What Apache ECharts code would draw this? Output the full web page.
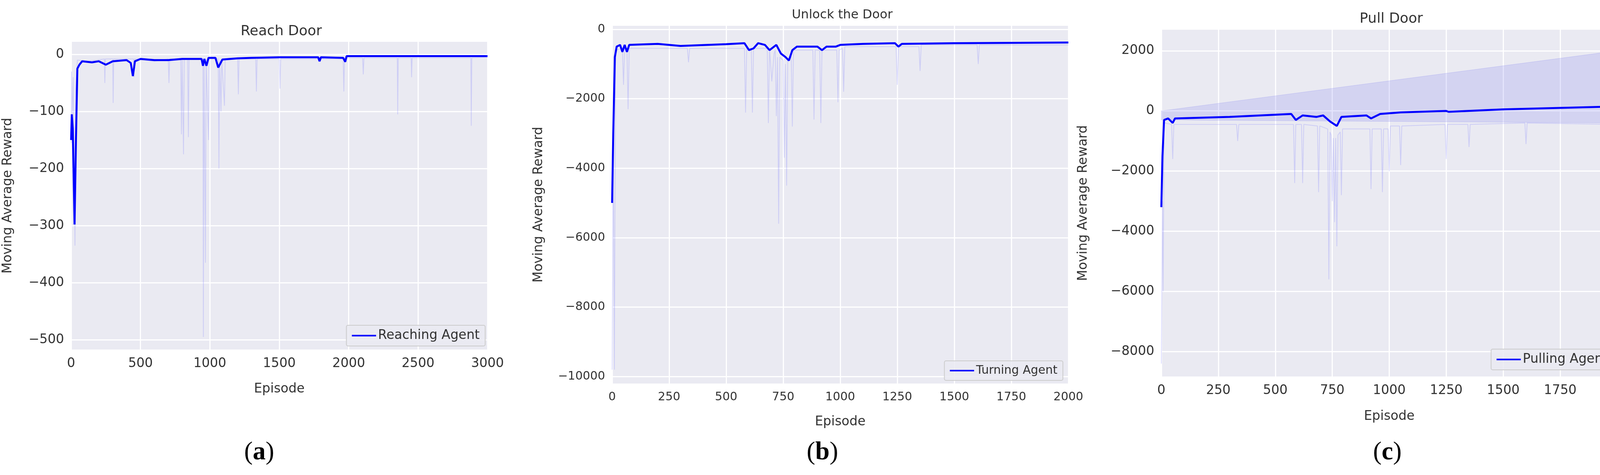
<!DOCTYPE html>
<html>
<head>
<meta charset="utf-8">
<script src="https://cdn.jsdelivr.net/npm/echarts@6/dist/echarts.min.js"></script>
<style>html,body{margin:0;padding:0;background:#fff;overflow:hidden}#c{width:4200px;height:1215px}</style>
</head>
<body>
<div id="c"></div>
<script>
// moving average curves, [episode, reward]
const maReach = [[0,-150],[5,-105],[12,-130],[25,-298],[35,-150],[45,-25],[60,-18],[80,-12],[150,-14],[200,-12],[250,-18],[300,-12],[400,-10],[430,-15],[445,-38],[460,-12],[500,-8],[600,-10],[700,-10],[800,-8],[940,-8],[950,-20],[960,-8],[975,-20],[990,-6],[1040,-6],[1060,-23],[1090,-9],[1200,-7],[1300,-6],[1500,-5],[1600,-5],[1780,-5],[1790,-12],[1800,-5],[1960,-6],[1975,-13],[1985,-3],[2200,-3],[2600,-3],[3000,-3]];
const rawReach = [[0,-155],[3,-30],[8,-110],[15,-40],[20,-150],[28,-335],[35,-60],[45,-10],[120,-12],[240,-8],[243,-50],[247,-8],[300,-8],[303,-85],[307,-8],[450,-8],[453,-40],[457,-8],[600,-12],[700,-8],[705,-50],[710,-8],[790,-8],[795,-140],[800,-8],[810,-175],[815,-8],[840,-8],[845,-145],[850,-8],[950,-8],[953,-495],[958,-10],[968,-365],[973,-8],[990,-150],[995,-8],[1060,-8],[1065,-200],[1070,-10],[1080,-100],[1085,-8],[1105,-90],[1110,-8],[1200,-8],[1205,-70],[1210,-8],[1330,-8],[1335,-65],[1340,-8],[1500,-8],[1505,-60],[1510,-8],[1960,-8],[1965,-65],[1970,-6],[2100,-6],[2105,-35],[2110,-6],[2350,-6],[2353,-105],[2357,-6],[2450,-6],[2453,-40],[2457,-6],[2880,-6],[2883,-125],[2887,-6],[3000,-5]];

const maTurn = [[0,-5000],[5,-3000],[12,-800],[20,-500],[35,-450],[45,-650],[55,-450],[65,-650],[75,-450],[200,-420],[300,-480],[500,-430],[580,-400],[600,-600],[620,-550],[640,-400],[670,-450],[690,-600],[720,-450],[740,-700],[760,-800],[775,-900],[790,-600],[810,-500],[900,-500],[920,-600],[940,-500],[980,-500],[1000,-450],[1100,-420],[1240,-400],[1255,-500],[1270,-420],[1500,-400],[2000,-380]];
const rawTurn = [[0,-9800],[5,-3000],[10,-9800],[15,-600],[45,-550],[50,-1600],[55,-550],[65,-550],[70,-2300],[75,-550],[330,-550],[335,-950],[340,-550],[580,-550],[585,-2400],[590,-550],[610,-550],[615,-2400],[620,-550],[680,-550],[685,-2700],[690,-550],[700,-1500],[710,-700],[715,-600],[720,-2500],[725,-800],[730,-5600],[735,-800],[750,-900],[755,-3700],[760,-1000],[765,-4500],[770,-900],[785,-700],[790,-2800],[795,-600],[880,-600],[885,-2600],[890,-600],[910,-600],[915,-2700],[920,-600],[985,-600],[990,-2100],[995,-600],[1010,-550],[1015,-1800],[1020,-500],[1245,-500],[1250,-1600],[1255,-500],[1345,-500],[1350,-1200],[1355,-450],[1600,-450],[1605,-1000],[1610,-450],[2000,-450]];

const maPull = [[0,-3200],[5,-1500],[12,-300],[30,-250],[50,-400],[60,-250],[300,-200],[570,-100],[590,-300],[620,-150],[680,-200],[710,-150],[740,-350],[770,-500],[790,-200],[900,-150],[920,-250],[960,-100],[1050,-50],[1250,0],[1260,-30],[1500,50],[2000,150]];
const rawPull = [[0,-8400],[5,-3000],[8,-6000],[12,-400],[45,-450],[50,-1600],[55,-450],[330,-450],[335,-1000],[340,-450],[580,-450],[585,-2400],[590,-450],[615,-450],[620,-2400],[625,-450],[685,-500],[690,-2700],[695,-500],[730,-600],[735,-5600],[740,-700],[745,-800],[750,-3000],[755,-900],[760,-3700],[765,-900],[770,-4500],[775,-800],[785,-700],[790,-2800],[795,-600],[915,-600],[920,-2600],[925,-600],[965,-600],[970,-2700],[975,-600],[995,-600],[1000,-2000],[1005,-500],[1045,-500],[1050,-1800],[1055,-500],[1245,-450],[1250,-1600],[1255,-450],[1345,-450],[1350,-1200],[1355,-450],[1595,-400],[1600,-1100],[1605,-400],[2000,-450]];
// shaded band of the pull agent: upper and lower edge
const bandUpper = [[0,0],[2000,2000]];
const bandLower = [[2000,-400],[0,-300]];

const titles = ['Reach Door', 'Unlock the Door', 'Pull Door'];
const agents = ['Reaching Agent', 'Turning Agent', 'Pulling Agent'];
const panelTags = ['a', 'b', 'c'];
const yTicks = [[-500, -400, -300, -200, -100, 0], [-10000, -8000, -6000, -4000, -2000, 0], [-8000, -6000, -4000, -2000, 0, 2000]];

const txt = '#333';
const font = 'DejaVu Sans';
const grids = [
  {left: 182, width: 1066, top: 107, height: 787},
  {left: 1567, width: 1168, top: 66, height: 915},
  {left: 2973, width: 1167, top: 76, height: 887}
];
const xs = [{max: 3000, interval: 500}, {max: 2000, interval: 250}, {max: 2000, interval: 250}];
const ys = [{min: -517, max: 22}, {min: -10200, max: 100}, {min: -8830, max: 2700}];
const yNameGap = [145, 171, 183];
const titleTop = [58, 18, 26];
const titleSize = [36, 32, 36];
const legendRight = [2958, 1479, 70];
const legendTop = [832, 923, 893];

const chart = echarts.init(document.getElementById('c'));
const series = [];
[[rawReach, maReach], [rawTurn, maTurn], [rawPull, maPull]].forEach((pair, i) => {
  series.push({type: 'line', xAxisIndex: i, yAxisIndex: i, data: pair[0], symbol: 'none', silent: true,
    lineStyle: {color: 'rgba(120,120,255,0.25)', width: 2}, z: 2});
  series.push({type: 'line', name: agents[i], xAxisIndex: i, yAxisIndex: i, data: pair[1], symbol: 'none',
    lineStyle: {color: '#0000ff', width: 5}, itemStyle: {color: '#0000ff'}, z: 3});
});
series.push({
  type: 'custom', xAxisIndex: 2, yAxisIndex: 2, silent: true, z: 1,
  data: [0],
  renderItem: (params, api) => {
    const pts = bandUpper.concat(bandLower).map(p => api.coord(p));
    return {type: 'polygon', shape: {points: pts}, style: {fill: 'rgba(120,120,240,0.2)', stroke: 'rgba(120,120,240,0.3)'}};
  }
});

const minus = v => String(v).replace('-', '\u2212');

chart.setOption({
  backgroundColor: '#fff',
  animation: false,
  title: titles.map((t, i) => ({
    text: t, left: grids[i].left + grids[i].width / 2, top: titleTop[i], textAlign: 'center',
    textStyle: {fontFamily: font, fontSize: titleSize[i], fontWeight: 'normal', color: txt}
  })),
  legend: agents.map((a, i) => ({
    data: [a], right: legendRight[i], top: legendTop[i],
    backgroundColor: 'rgba(234,234,242,0.85)', borderColor: '#cccccc', borderWidth: 2, borderRadius: 4,
    padding: [10, 14], itemWidth: 62, itemHeight: 4, itemGap: 10,
    icon: 'rect',
    textStyle: {fontFamily: font, fontSize: i === 1 ? 30 : 33, color: txt}
  })),
  grid: grids.map(g => Object.assign({backgroundColor: '#eaeaf2', show: true, borderWidth: 0, outerBoundsMode: 'none'}, g)),
  xAxis: xs.map((x, i) => ({
    type: 'value', gridIndex: i, min: 0, max: x.max, interval: x.interval,
    name: 'Episode', nameLocation: 'middle', nameGap: [85, 82, 86][i],
    nameTextStyle: {fontFamily: font, fontSize: 33, color: txt},
    axisLine: {show: false}, axisTick: {show: false},
    axisLabel: {fontFamily: font, fontSize: i === 1 ? 30 : 33, color: txt, margin: 20, formatter: v => String(v)},
    splitLine: {lineStyle: {color: '#ffffff', width: 3}}
  })),
  yAxis: ys.map((y, i) => ({
    type: 'value', gridIndex: i, min: y.min, max: y.max,
    name: 'Moving Average Reward', nameLocation: 'middle', nameGap: yNameGap[i],
    nameTextStyle: {fontFamily: font, fontSize: 33, color: txt},
    axisLine: {show: false},
    axisTick: {show: false, customValues: yTicks[i]},
    axisLabel: {fontFamily: font, fontSize: i === 1 ? 30 : 33, color: txt, margin: 18,
      customValues: yTicks[i], formatter: minus},
    splitLine: {lineStyle: {color: '#ffffff', width: 3}}
  })),
  graphic: panelTags.map((t, i) => ({
    type: 'text', left: [625, 2065, 3515][i], top: 1125,
    style: {
      text: '{p|(}{b|' + t + '}{p|)}',
      rich: {
        p: {fontFamily: 'Liberation Serif', fontSize: 66, fill: '#000'},
        b: {fontFamily: 'Liberation Serif', fontSize: 66, fontWeight: 'bold', fill: '#000'}
      }
    }
  })),
  series: series
});
</script>
</body>
</html>
